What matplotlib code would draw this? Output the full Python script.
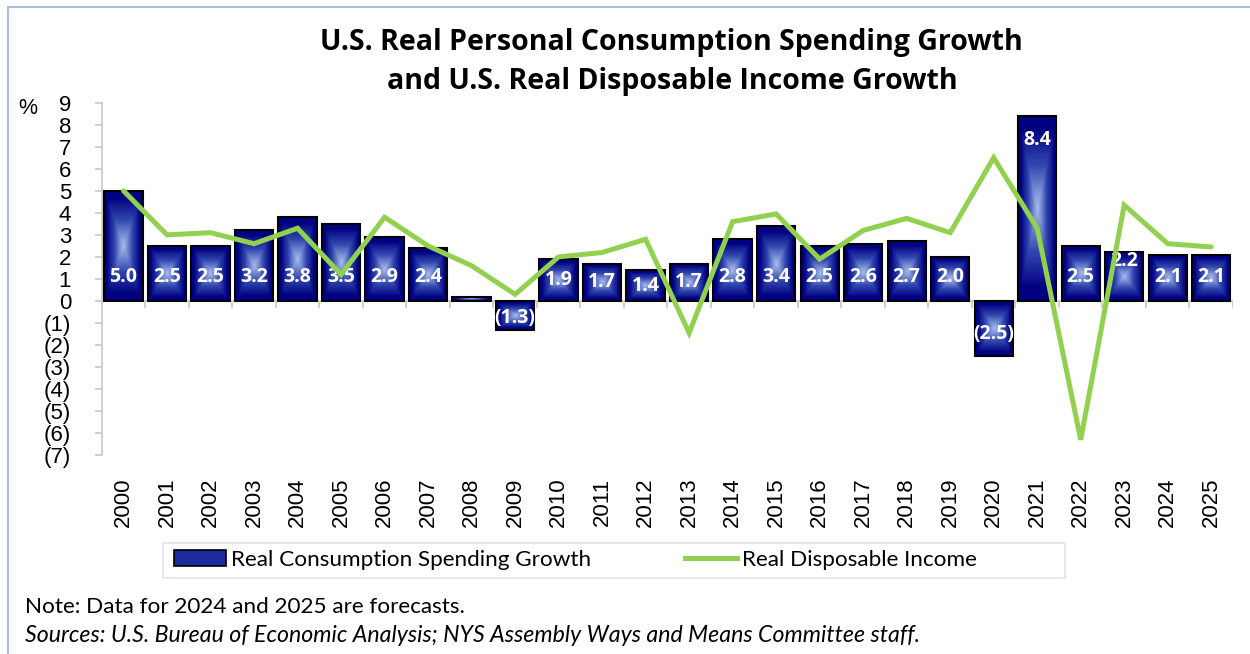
import numpy as np
import matplotlib
matplotlib.use("Agg")
import matplotlib.pyplot as plt
from matplotlib.colors import LinearSegmentedColormap
from matplotlib.patches import Rectangle
from matplotlib.lines import Line2D
from matplotlib.ticker import FuncFormatter

# Data
years = [str(y) for y in range(2000, 2026)]
consumption = [5.0, 2.5, 2.5, 3.2, 3.8, 3.5, 2.9, 2.4, 0.2, -1.3, 1.9, 1.7, 1.4,
               1.7, 2.8, 3.4, 2.5, 2.6, 2.7, 2.0, -2.5, 8.4, 2.5, 2.2, 2.1, 2.1]
disposable = [5.0, 3.0, 3.1, 2.6, 3.3, 1.2, 3.8, 2.5, 1.6, 0.3, 2.0, 2.2, 2.8,
              -1.45, 3.6, 3.95, 1.9, 3.2, 3.75, 3.1, 6.5, 3.3, -6.3, 4.35, 2.6, 2.45]
hidden_labels = ["2008"]
end_labels = ["2021", "2023"]   # labels that sit near the top of the bar

title = "U.S. Real Personal Consumption Spending Growth\nand U.S. Real Disposable Income Growth"
note = "Note: Data for 2024 and 2025 are forecasts."
sources = "Sources: U.S. Bureau of Economic Analysis; NYS Assembly Ways and Means Committee staff."

NAVY = "#000080"
GLOW = "#a8bcee"
GREEN = "#92d050"
GRID_GRAY = "#c8c8c8"
BOLD_FONT = "Open Sans"

fig = plt.figure(figsize=(12.5, 6.54), dpi=100)
ax = fig.add_axes([0.0814, 0.304, 0.905, 0.539])

# rectangular gradient used for the bar fill
cmap = LinearSegmentedColormap.from_list(
    "bar", [(0, NAVY), (0.2, NAVY), (0.6, "#3045ae"), (1, GLOW)])
u = np.linspace(-1, 1, 41)
v = np.linspace(-1, 1, 81)
uu, vv = np.meshgrid(u, v)
grad = (1 - np.maximum(np.abs(uu), np.abs(vv))) ** 0.8

x = np.arange(len(years))
width = 0.88
for i, val in enumerate(consumption):
    x0, x1 = i - width / 2, i + width / 2
    lo, hi = min(0, val), max(0, val)
    ax.imshow(grad, extent=[x0, x1, lo, hi], aspect="auto", cmap=cmap,
              vmin=0, vmax=1, zorder=2, interpolation="bilinear")
    ax.add_patch(Rectangle((x0, lo), width, hi - lo, fill=False,
                           edgecolor="black", lw=1.5, zorder=3))

    if years[i] in hidden_labels:
        continue
    if val < 0:
        ly = val * 0.6
        txt = "(%.1f)" % abs(val)
    elif years[i] in end_labels:
        ly = val - (1.1 if val > 5 else 0.4)
        txt = "%.1f" % val
    else:
        ly = min(1.1, val / 2 if val < 2 else 1.1)
        txt = "%.1f" % val
    ax.text(i, ly, txt, ha="center", va="center", color="white",
            fontsize=14, fontweight="bold", family=BOLD_FONT, zorder=4)

ax.plot(x, disposable, color=GREEN, lw=3.6, zorder=5, solid_capstyle="round",
        solid_joinstyle="miter")

ax.set_xlim(-0.5, len(years) - 0.5)
ax.set_ylim(-7, 9)

# zero line with category separator ticks
ax.axhline(0, color=GRID_GRAY, lw=1.2, zorder=1)
ax.vlines(np.arange(len(years)) + 0.5, -0.32, 0, color=GRID_GRAY, lw=1.2, zorder=1)

for s in ["top", "right", "bottom"]:
    ax.spines[s].set_visible(False)
ax.spines["left"].set_color(GRID_GRAY)
ax.spines["left"].set_linewidth(1.2)

ax.set_yticks(range(-7, 10))
ax.yaxis.set_major_formatter(FuncFormatter(
    lambda y, p: "(%d)" % abs(y) if y < 0 else "%d" % y))
ax.tick_params(axis="y", length=5, color=GRID_GRAY, width=1.2, pad=17,
               labelsize=16)
ax.set_xticks(x)
ax.set_xticklabels(years, rotation=90, fontsize=16)
ax.tick_params(axis="x", length=0, pad=16)
for lab in ax.get_xticklabels() + ax.get_yticklabels():
    lab.set_family("Liberation Sans")

fig.text(18 / 1250, 1 - 108 / 654, "%", fontsize=15.5, family="Liberation Sans",
         va="center")
fig.text(0.5375, 1 - 62 / 654, title, ha="center", va="center", fontsize=20.5,
         fontweight="bold", family=BOLD_FONT, linespacing=1.45)

# legend with its own frame
handles = [Rectangle((0, 0), 1, 1, facecolor="#1c2c9c", edgecolor="black", lw=1.2),
           Line2D([], [], color=GREEN, lw=3.6)]
leg = fig.legend(handles, ["Real Consumption Spending Growth", "Real Disposable Income"],
                 loc="center left", bbox_to_anchor=(174 / 1250, 1 - 560 / 654), ncol=2,
                 frameon=False, prop={"family": "Lato", "size": 16.2},
                 handlelength=2.3, handleheight=0.67, handletextpad=0.22,
                 columnspacing=4.2, borderaxespad=0, borderpad=0)
fig.add_artist(Rectangle((163 / 1250, 1 - 578 / 654), 902 / 1250, 35 / 654,
                         transform=fig.transFigure, fill=False,
                         edgecolor="#dde4ee", lw=1.2))

fig.text(0.02, 1 - 607 / 654, note, fontsize=16.2, family="Lato", va="center")
fig.text(0.02, 1 - 635 / 654, sources, fontsize=16.7, family="Lato",
         style="italic", va="center")

# outer frame (partly off the canvas like the reference)
fig.add_artist(Rectangle((8 / 1250, -0.1), 1.2, 1 - 7 / 654 + 0.1,
                         transform=fig.transFigure, fill=False,
                         edgecolor="#a9c0e0", lw=1.5))

fig.savefig("out.png", dpi=100)
